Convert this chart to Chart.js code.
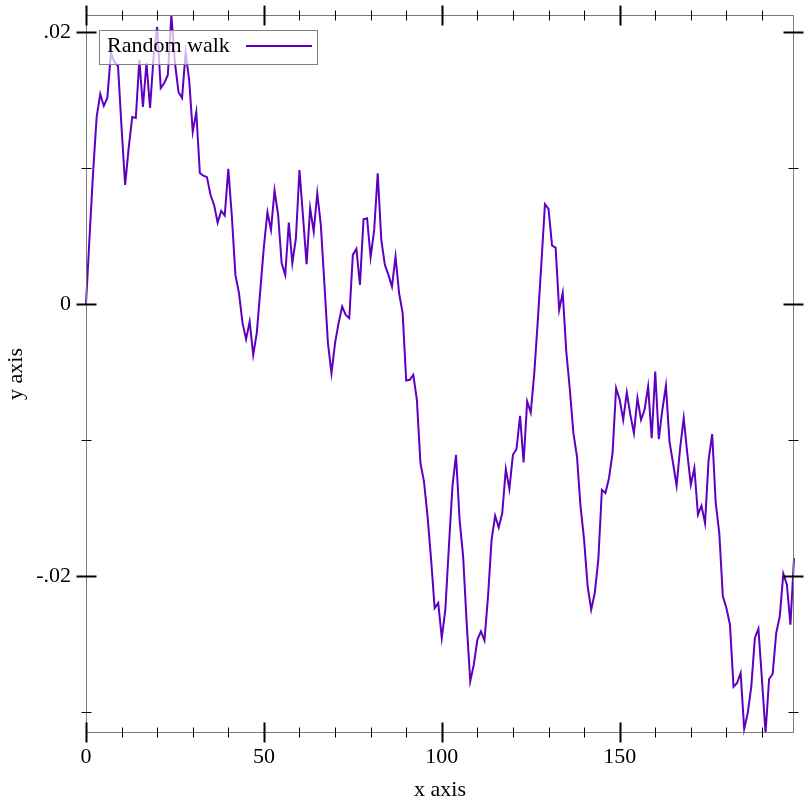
<!DOCTYPE html>
<html>
<head>
<meta charset="utf-8">
<title>Random walk</title>
<script src="https://cdn.jsdelivr.net/npm/chart.js@4.4.1/dist/chart.umd.min.js"></script>
<style>
  html, body { margin: 0; padding: 0; background: #fff; }
  #walk { display: block; }
</style>
</head>
<body>
<canvas id="walk" width="812" height="812"></canvas>
<script>
// random walk, 200 steps in chunks of 50
const walk0 = [
    0, 0.00493, 0.00971, 0.01375, 0.01544, 0.01456, 0.01515, 0.01846, 0.01779, 0.0175,
    0.01294, 0.00875, 0.01147, 0.01375, 0.01368, 0.01794, 0.01449, 0.01772, 0.01441, 0.01816,
    0.02037, 0.01588, 0.01625, 0.01684, 0.02125, 0.01772, 0.01559, 0.01515, 0.01846, 0.01647,
    0.01265, 0.01412, 0.00963, 0.00943, 0.00932, 0.00801, 0.00728, 0.00598, 0.00684, 0.00649,
    0.00993, 0.00642, 0.00213, 0.00079, -0.00142, -0.0026, -0.0013, -0.00375, -0.00215, 0.00103
]
const walk50 = [
    0.00421, 0.00674, 0.00544, 0.00833, 0.00654, 0.00299, 0.00213, 0.00598, 0.00299, 0.00483,
    0.00985, 0.00642, 0.00292, 0.00704, 0.00532, 0.00814, 0.00581, 0.00152, -0.00289, -0.0051,
    -0.00289, -0.00142, -0.0002, -0.00081, -0.00105, 0.0036, 0.00404, 0.0014, 0.00623, 0.0063,
    0.00343, 0.00544, 0.00961, 0.00471, 0.00287, 0.00213, 0.00127, 0.00348, 0.00079, -0.00068,
    -0.00564, -0.00559, -0.00522, -0.00706, -0.01171, -0.01307, -0.01564, -0.01882, -0.02238, -0.02201
]
const walk100 = [
    -0.02458, -0.0225, -0.01785, -0.01343, -0.0111, -0.01588, -0.01858, -0.02348, -0.02777, -0.02654,
    -0.02471, -0.0241, -0.02476, -0.02152, -0.01735, -0.01559, -0.01645, -0.01539, -0.01215, -0.01363,
    -0.0111, -0.01068, -0.00824, -0.01167, -0.00718, -0.00799, -0.0051, -0.00118, 0.00299, 0.00733,
    0.00699, 0.00429, 0.00414, -0.00044, 0.00081, -0.00353, -0.00632, -0.00951, -0.01123, -0.0149,
    -0.01735, -0.02079, -0.0225, -0.02127, -0.01882, -0.01368, -0.01392, -0.01282, -0.01098, -0.0062
]
const walk150 = [
    -0.00706, -0.00853, -0.00652, -0.00816, -0.00951, -0.00693, -0.00853, -0.00779, -0.00608, -0.00988,
    -0.00498, -0.00995, -0.00779, -0.00603, -0.01013, -0.01171, -0.01338, -0.0106, -0.0084, -0.01098,
    -0.01331, -0.01208, -0.01551, -0.01485, -0.01613, -0.01147, -0.00958, -0.01465, -0.01686, -0.02152,
    -0.02238, -0.0236, -0.02818, -0.02789, -0.02715, -0.03127, -0.0301, -0.02814, -0.02458, -0.0239,
    -0.02765, -0.03157, -0.0276, -0.02723, -0.02421, -0.02299, -0.01985, -0.02066, -0.0236, -0.0187
]

const xMajorTicks = [0, 50, 100, 150]
const xMinorTicks = [10, 20, 30, 40, 60, 70, 80, 90, 110, 120, 130, 140, 160, 170, 180, 190]
const yMajorTicks = [0.02, 0, -0.02]
const yMajorLabels = ['.02', '0', '-.02']
const yMinorTicks = [0.01, -0.01, -0.03]

const seriesName = 'Random walk'
const lineColor = '#5f00c0'
const fontFamily = '"Liberation Serif", "DejaVu Serif", serif'

const walk = walk0.concat(walk50, walk100, walk150)
const points = walk.map((v, i) => ({ x: i, y: v }))

// frame, ticks on all four sides, and the boxed legend in the top left
const frameAndTicks = {
    id: 'frameAndTicks',
    afterDatasetsDraw(chart) {
        const { ctx, chartArea: a, scales: { x, y } } = chart
        const L = a.left + 0.5, R = a.right - 0.5, T = a.top + 0.5, B = a.bottom - 0.5
        ctx.save()
        ctx.strokeStyle = '#7a7a7a'
        ctx.lineWidth = 1
        ctx.strokeRect(L, T, R - L, B - T)

        ctx.strokeStyle = '#000'
        const xTick = (v, len) => {
            const px = Math.round(x.getPixelForValue(v)) + 0.5
            ctx.moveTo(px, B - len); ctx.lineTo(px, B + len)
            ctx.moveTo(px, T - len); ctx.lineTo(px, T + len)
        }
        const yTick = (v, len) => {
            const py = Math.round(y.getPixelForValue(v)) + 0.5
            ctx.moveTo(L - len, py); ctx.lineTo(L + len, py)
            ctx.moveTo(R - len, py); ctx.lineTo(R + len, py)
        }
        ctx.lineWidth = 1
        ctx.beginPath()
        xMinorTicks.forEach(v => xTick(v, 5))
        yMinorTicks.forEach(v => yTick(v, 5))
        ctx.stroke()
        ctx.lineWidth = 2
        ctx.beginPath()
        xMajorTicks.forEach(v => xTick(v, 10))
        yMajorTicks.forEach(v => yTick(v, 10))
        ctx.stroke()

        // legend
        const bx = 99.5, by = 30.5, bw = 218, bh = 34
        ctx.lineWidth = 1
        ctx.fillStyle = 'rgba(255,255,255,0.7)'
        ctx.fillRect(bx, by, bw, bh)
        ctx.strokeStyle = '#808080'
        ctx.strokeRect(bx, by, bw, bh)
        ctx.fillStyle = '#000'
        ctx.font = '22px ' + fontFamily
        ctx.textBaseline = 'alphabetic'
        ctx.textAlign = 'left'
        ctx.fillText(seriesName, 107, 52)
        ctx.strokeStyle = lineColor
        ctx.lineWidth = 2
        ctx.beginPath()
        ctx.moveTo(246, 46)
        ctx.lineTo(312, 46)
        ctx.stroke()
        ctx.restore()
    }
}

const options = {
    type: 'line',
    data: {
        datasets: [{
            label: seriesName,
            data: points,
            borderColor: lineColor,
            borderWidth: 2,
            pointRadius: 0,
            tension: 0,
            fill: false,
            clip: 3
        }]
    },
    options: {
        responsive: false,
        animation: false,
        devicePixelRatio: 1,
        layout: { padding: { top: 15, right: 18, left: 0, bottom: 0 } },
        plugins: {
            legend: { display: false },
            tooltip: { enabled: false }
        },
        scales: {
            x: {
                type: 'linear',
                min: 0,
                max: 199,
                afterBuildTicks: s => { s.ticks = xMajorTicks.map(v => ({ value: v })) },
                afterFit: s => {
                    s.height = 79
                    s.paddingLeft = 0
                    s.paddingRight = 0
                },
                grid: { display: false },
                border: { display: false },
                ticks: {
                    padding: 3,
                    color: '#000',
                    font: { family: fontFamily, size: 22 },
                    callback: v => String(v)
                },
                title: {
                    display: true,
                    text: 'x axis',
                    color: '#000',
                    font: { family: fontFamily, size: 22 },
                    padding: { top: 0, bottom: 9 }
                }
            },
            y: {
                type: 'linear',
                min: -0.03157,
                max: 0.02125,
                afterBuildTicks: s => { s.ticks = yMajorTicks.map(v => ({ value: v })) },
                afterFit: s => {
                    s.width = 86
                    s.paddingTop = 0
                    s.paddingBottom = 0
                },
                grid: { display: false },
                border: { display: false },
                ticks: {
                    padding: 7,
                    color: '#000',
                    font: { family: fontFamily, size: 22 },
                    callback: v => yMajorLabels[yMajorTicks.findIndex(t => Math.abs(t - v) < 1e-9)]
                },
                title: {
                    display: true,
                    text: 'y axis',
                    color: '#000',
                    font: { family: fontFamily, size: 22 },
                    padding: { top: 3, bottom: 0 }
                }
            }
        }
    },
    plugins: [frameAndTicks]
}

const ctx = document.getElementById('walk').getContext('2d')
const chart = new Chart(ctx, options)
</script>
</body>
</html>
